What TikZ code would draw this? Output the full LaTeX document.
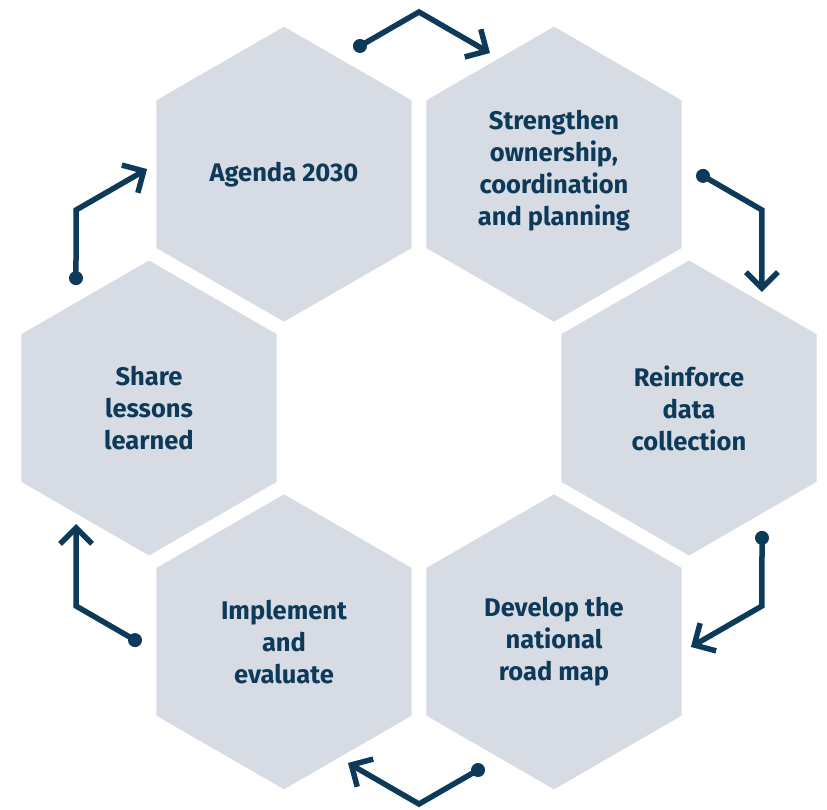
\documentclass[tikz,border=0pt]{standalone}
\usepackage{fontspec}
\setmainfont{Fira Sans}
\usetikzlibrary{arrows.meta,shapes.geometric}
\definecolor{hexfill}{HTML}{D6DBE4}
\definecolor{navy}{HTML}{0E3A5A}

\begin{document}
\begin{tikzpicture}[
    x=1pt, y=1pt,
    stage/.style={
        % the hexagon
        regular polygon,
        regular polygon sides=6,
        shape border rotate=30,
        minimum size=295pt,
        inner sep=0pt, outer sep=0pt,
        fill=hexfill,
        % the text
        text=navy,
        align=center,
        font=\bfseries\fontsize{25.5}{32}\selectfont},
    cycle/.style={
        draw=navy,
        line width=5.5pt,
        line join=miter,
        -{Straight Barb[length=16pt,width=32pt]}}]
  \useasboundingbox (-419,-401) rectangle (408,408);
  \node (agenda) [stage] at (120:270) {\raisebox{-3pt}{Agenda 2030}};
  \node (strengthen) [stage] at (60:270) {Strengthen\\ownership,\\coordination\\and planning\vspace{8pt}};
  \node (reinforce) [stage] at (0:270) {Reinforce\\data\\collection};
  \node (develop) [stage] at (-60:270) {Develop the\\national\\road map};
  \node (implement) [stage] at (-120:270) {Implement\\and\\evaluate};
  \node (share) [stage] at (180:270) {Share\\lessons\\learned};
  % the six bent arrows round the ring
  \foreach \a [count=\i] in {90,30,-30,-90,-150,150} {
    \coordinate (from\i) at (\a+9.26:366.8);
    \coordinate (bend\i) at (\a:396);
    \coordinate (to\i) at (\a-11.31:362);
    \fill[navy] (from\i) circle (7);
    \draw[cycle] (from\i) -- (bend\i) -- (to\i);
  }
\end{tikzpicture}
\end{document}
